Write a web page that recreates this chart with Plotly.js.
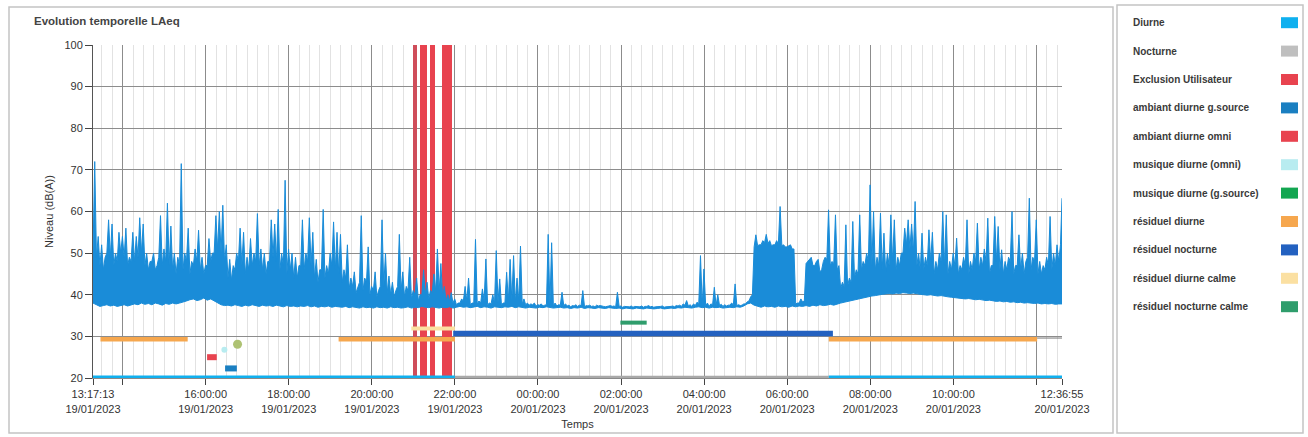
<!DOCTYPE html>
<html><head><meta charset="utf-8">
<script src="https://cdn.plot.ly/plotly-3.0.1.min.js"></script>
<style>html,body{margin:0;padding:0;background:#fff;}#chart{width:1308px;height:437px;}</style>
</head><body><div id="chart"></div>
<script>
// ---------- DATA ----------
const laeqStart = '2023-01-19T13:17:13';
const laeqStepMinutes = 5;
const laeqEnd = '2023-01-20T12:36:55';
const laeqEndValue = 63.2;
// lower envelope of LAeq per 5-minute interval
const laeqLow = [
38,37.5,37.2,37.4,37.6,37.3,37.5,37.2,37.4,37.6,37.3,37.5,
37.8,37.6,38,37.7,37.9,37.6,38,37.8,37.5,37.9,37.7,38,
37.8,38,38.2,38.5,38.8,39,38.6,38.8,39.2,38.7,39,38.5,
38,37.6,37.4,37.5,37.3,37.6,37.4,37.2,37.5,37.3,37.6,37.4,
37.2,37.5,37.3,37.4,37.2,37.5,37.3,37.1,37.4,37.2,37.3,37.1,
37.3,37.2,37.4,37.1,37.3,37,37.2,37.1,37.3,37,37.2,37.1,
37,37.2,36.9,37.1,37,36.8,37.1,36.9,37,36.8,37.1,36.9,
37,36.8,37.1,36.9,37,36.8,36.9,37.1,36.8,37,36.9,37.2,
37,36.9,37.1,37,36.8,37,36.9,37.1,36.8,37,37.2,37,
37.1,36.9,37,37.2,36.9,37.1,37,36.8,37.1,37,36.9,37.1,
37,37.2,36.9,37.1,37,36.8,37,36.9,36.8,37,36.9,37.1,
37,36.8,36.9,37,36.8,36.9,36.7,36.9,36.8,37,36.7,36.9,
36.8,36.7,36.9,36.8,36.7,36.9,36.8,36.7,36.8,36.6,36.8,36.7,
36.6,36.8,36.7,36.6,36.8,36.7,36.6,36.7,36.8,36.6,36.7,36.8,
36.7,36.9,36.8,37,36.9,36.8,37,37.1,36.9,37,36.8,37,
36.9,37,36.8,36.9,37,36.9,37.1,37,37.3,37.8,38,37.5,
37.2,37,37.3,37.1,37.2,37,37.3,37.1,37.2,37,37.3,37.1,
37.3,37.2,37.4,37.2,37.5,37.3,37.6,37.4,37.5,37.7,37.5,37.8,
38,38.2,38.4,38.6,38.8,39,39.2,39.4,39.5,39.7,39.8,40,
40.1,40.2,40.3,40.2,40.4,40.3,40.5,40.4,40.3,40.4,40.2,40.1,
40,39.9,40,39.8,39.7,39.8,39.6,39.5,39.4,39.3,39.2,39.1,
39,39.1,38.9,38.8,38.9,38.7,38.6,38.7,38.5,38.4,38.5,38.3,
38.4,38.2,38.3,38.1,38.2,38,38.1,38,37.9,38,37.8,37.9,
37.8,37.9,37.7,37.8
];
// top of the dense part of the signal per 5-minute interval
const laeqBody = [
50,49,47,46,50,49,47,48,50,49,47,48,
48,49,50,47,46,48,46,49,47,48,47,46,
45,47,46,48,45,47,48,46,45,47,48,50,
51,50,48,44,43.5,46,48,47,45,46,47,48,
47,46,45,48,49,48,46,47,45,46,44,44,
47,46,48,47,44,43,46,44,45,47,46,45,
43,44,41.5,42,40.5,43,41,43,40,41,39.5,42,
42,40.5,40,39.5,42,41,39.5,41,39,40,38.5,40,
40,39,40.5,41,41,39.5,38.5,38.5,38,37.6,38,38.5,
38.5,37.6,38,37.8,38,38.5,37.6,37.8,38,38.2,37.6,38,
38.5,38.6,38.2,38.5,37.8,37.6,37.5,37.6,37.3,37.5,37.3,37.6,
37.6,37.4,37.3,37.5,37.4,37.3,37.1,37.3,37.2,37.4,37.1,37.3,
37.2,37.1,37.3,37.2,37.1,37.3,37.2,37.1,37.2,37,37.2,37.1,
37,37.2,37.1,37,37.2,37.1,37,37.1,37.2,37,37.1,37.2,
37.1,37.3,37.2,37.5,37.3,37.2,37.4,37.8,37.5,37.4,37.2,37.6,
37.4,37.4,37.2,37.3,37.5,37.6,37.4,37.4,37.8,38.3,39.5,51.5,
51.8,52,52.5,52.3,51.8,52,52.2,51.8,51.5,51.8,51,37.8,
38,38.3,47.5,48.5,47,48,45.5,48,48.5,47,47.5,46,
41.5,42,42,43,44,45,46,47,48,47,46,47,
46,45.5,47,48,46,47,50,52,51,50,47,46,
46,47,48,45,46,48,47,45,46,47,45,46,
47,45,46,48,46,47,48,45,47,48,46,45,
46,48,45,47,46,45,49,46,48,45,45,46,
47,46,47,48
];
// peak of the signal per 5-minute interval
const laeqHigh = [
72,54,52,49,58,57,50,55,54,56,49,55,
54,58.5,57,50,48,50,47,59,51,62,56.5,50,
49,71.5,50,56,48,51,55.5,49,47,53.5,50,59,
60,61.5,52,48.5,47,50,56,55,49,53.5,50,59.5,
51,50,48,58,57,60.5,50,67.5,51,50,49,47,
58,50,58.5,55,48.5,46,60.5,47,50,57.5,55,54.5,
46,52,44,45.5,42,59,44,51.5,42,45.5,41,58,
50,44.5,43,41,54.5,45.5,42,49,41,44,40,46,
43,41,45,51,47.5,42,40,40.5,39,38,39,42,
44,38,53.3,38.5,41.4,48.6,38,40,50.6,43.8,38,45.4,
48.5,49.4,44,51.7,39,38,37.8,38,37.6,37.8,37.5,54.5,
52.5,38,37.6,40.6,37.8,37.5,37.4,37.6,37.5,41,37.4,37.5,
37.3,37.5,37.4,37.2,37.3,37.4,37.3,40.6,37.3,37.2,37.1,37.3,
37.2,37.1,37.3,37.2,37.4,37.2,37.1,37.2,37.3,37.1,37.2,37.3,
37.4,37.5,37.8,38.6,37.6,37.8,38.2,49.4,46.2,38,37.8,41.8,
40,37.7,37.6,37.5,38,42.6,37.6,37.5,37.8,38.5,40,54.4,
52,53,54.5,53,52,53,61.2,52,51.5,52,51,38,
39,38.5,48,49,47,48.5,46,49,60.4,48,59.2,47,
43,56.8,44,57.6,46,59.2,48,50,66.4,60,49,59.6,
54.8,50,59.2,58,49,50,56,58,57,62.4,50,54.8,
49,55.6,55,48,50,60,59.2,48,50,53.6,47,49,
58,48,50,57.2,49,51,58.4,47,58.8,56.4,50.8,48,
49,60,47,54.4,50,48,63.2,49,58,48,47,49,
58.8,50,52,52
];

const tickTimes = ['2023-01-19T13:17:13','2023-01-19T14:00:00','2023-01-19T16:00:00','2023-01-19T18:00:00',
  '2023-01-19T20:00:00','2023-01-19T22:00:00','2023-01-20T00:00:00','2023-01-20T02:00:00','2023-01-20T04:00:00',
  '2023-01-20T06:00:00','2023-01-20T08:00:00','2023-01-20T10:00:00','2023-01-20T12:00:00'];
const tickLabels = ['13:17:13<br>19/01/2023','','16:00:00<br>19/01/2023','18:00:00<br>19/01/2023',
  '20:00:00<br>19/01/2023','22:00:00<br>19/01/2023','00:00:00<br>20/01/2023','02:00:00<br>20/01/2023',
  '04:00:00<br>20/01/2023','06:00:00<br>20/01/2023','08:00:00<br>20/01/2023','10:00:00<br>20/01/2023',''];
const endTickLabel = '12:36:55<br>20/01/2023';
const yTicks = [20,30,40,50,60,70,80,90,100];

const legendNames = ['Diurne','Nocturne','Exclusion Utilisateur','ambiant diurne g.source','ambiant diurne omni',
  'musique diurne (omni)','musique diurne (g.source)','résiduel diurne','résiduel nocturne','résiduel diurne calme',
  'résiduel nocturne calme'];
const legendColors = ['#0fb0ef','#bfbfbf','#e8434f','#1a7fc1','#e8434f','#b8ecf0','#13a651','#f6a74e','#2361c0',
  '#fbe0a2','#2f9d6c'];

// periods at the base line
const diurneStarts = ['2023-01-19T13:17:13','2023-01-20T07:00:00'];
const diurneEnds = ['2023-01-19T22:00:00','2023-01-20T12:36:55'];
const diurneLevel = 20.1;
const nocturneStarts = ['2023-01-19T22:00:00'];
const nocturneEnds = ['2023-01-20T07:00:00'];
const nocturneLevel = 20.1;

// user exclusions
const exclusionStarts = ['2023-01-19T20:58:50','2023-01-19T21:09:20','2023-01-19T21:23:30','2023-01-19T21:41:20'];
const exclusionEnds = ['2023-01-19T21:04:30','2023-01-19T21:19:50','2023-01-19T21:31:50','2023-01-19T21:56:00'];
const exclusionColors = ['#cf4d5a','#e8434f','#e8434f','#e8434f'];
const exclusionBottom = 20, exclusionTop = 100;

// indicator segments
const ambiantGsStarts = ['2023-01-19T16:28:00'], ambiantGsEnds = ['2023-01-19T16:45:00'], ambiantGsLevels = [22.3];
const ambiantOmniStarts = ['2023-01-19T16:02:00'], ambiantOmniEnds = ['2023-01-19T16:16:00'], ambiantOmniLevels = [25.0];
const musiqueOmniTimes = ['2023-01-19T16:27:00'], musiqueOmniLevels = [26.8];
const musiqueGsTimes = ['2023-01-19T16:46:00'], musiqueGsLevels = [28.1];
const residDiurneStarts = ['2023-01-19T13:28:00','2023-01-19T19:12:00','2023-01-20T07:00:00'];
const residDiurneEnds = ['2023-01-19T15:34:00','2023-01-19T22:00:00','2023-01-20T12:01:00'];
const residDiurneLevels = [29.3,29.3,29.3];
const residNocturneStarts = ['2023-01-19T21:57:30'], residNocturneEnds = ['2023-01-20T07:06:00'], residNocturneLevels = [30.7];
const residDiurneCalmeStarts = ['2023-01-19T20:57:00'], residDiurneCalmeEnds = ['2023-01-19T22:00:00'], residDiurneCalmeLevels = [31.9];
const residNocturneCalmeStarts = ['2023-01-20T01:59:00'], residNocturneCalmeEnds = ['2023-01-20T02:37:00'], residNocturneCalmeLevels = [33.3];
const tailStarts = ['2023-01-20T12:01:00'], tailEnds = ['2023-01-20T12:36:55'], tailLevels = [29.6];

// ---------- BUILD ----------
const ms = s => Date.parse(s + 'Z');
const t0 = ms(laeqStart), t1 = ms(laeqEnd), step = laeqStepMinutes * 60000;
const BLUE = '#1a8cd8';
const tx = laeqLow.map((v, i) => t0 + i * step);
const lowX = tx.concat([t1]), lowY = laeqLow.concat([laeqLow[laeqLow.length - 1]]);
// upper outline: dense body with a peak in the middle of every interval
const upX = [], upY = [];
laeqBody.forEach((b, i) => {
  upX.push(tx[i], tx[i] + step / 2); upY.push(b, laeqHigh[i]);
});
upX.push(t1); upY.push(laeqEndValue);

function segs(starts, ends, levels) {
  const x = [], y = [];
  starts.forEach((s, k) => {
    const lv = Array.isArray(levels) ? levels[k] : levels;
    x.push(ms(s), ms(ends[k]), null); y.push(lv, lv, null);
  });
  return {x, y};
}
function segTrace(d, color, width) {
  return {type:'scatter', mode:'lines', x:d.x, y:d.y, line:{color:color, width:width}, hoverinfo:'skip',
    showlegend:false, cliponaxis:false};
}

const traces = [];
traces.push({
  type:'bar',
  x: exclusionStarts.map((s,k) => (ms(s) + ms(exclusionEnds[k])) / 2),
  width: exclusionStarts.map((s,k) => ms(exclusionEnds[k]) - ms(s)),
  y: exclusionStarts.map(() => exclusionTop - exclusionBottom),
  base: exclusionBottom,
  marker:{color: exclusionColors, line:{width:0}},
  showlegend:false, hoverinfo:'skip'
});
traces.push(segTrace(segs(nocturneStarts, nocturneEnds, nocturneLevel), '#a9a9a9', 3.5));
traces.push(segTrace(segs(diurneStarts, diurneEnds, diurneLevel), legendColors[0], 4));
traces.push(segTrace(segs(residDiurneStarts, residDiurneEnds, residDiurneLevels), legendColors[7], 4.5));
traces.push(segTrace(segs(residDiurneCalmeStarts, residDiurneCalmeEnds, residDiurneCalmeLevels), legendColors[9], 4));
traces.push(segTrace(segs(residNocturneStarts, residNocturneEnds, residNocturneLevels), legendColors[8], 5.5));
traces.push(segTrace(segs(residNocturneCalmeStarts, residNocturneCalmeEnds, residNocturneCalmeLevels), legendColors[10], 4));
traces.push(segTrace(segs(ambiantOmniStarts, ambiantOmniEnds, ambiantOmniLevels), legendColors[4], 6));
traces.push(segTrace(segs(ambiantGsStarts, ambiantGsEnds, ambiantGsLevels), legendColors[3], 6));
traces.push(segTrace(segs(tailStarts, tailEnds, tailLevels), '#777777', 1));
traces.push({type:'scatter', mode:'markers', x:musiqueOmniTimes.map(ms), y:musiqueOmniLevels,
  marker:{color:legendColors[5], size:6}, hoverinfo:'skip', showlegend:false});
traces.push({type:'scatter', mode:'markers', x:musiqueGsTimes.map(ms), y:musiqueGsLevels,
  marker:{color:'#aec273', size:9, symbol:'circle'}, hoverinfo:'skip', showlegend:false});
// signal
traces.push({type:'scatter', mode:'lines', x:lowX, y:lowY, line:{color:BLUE, width:1}, hoverinfo:'skip', showlegend:false});
traces.push({type:'scatter', mode:'lines', x:upX, y:upY, fill:'tonexty', fillcolor:BLUE,
  line:{color:BLUE, width:1}, hoverinfo:'skip', showlegend:false});
// carrier for the end tick axis
traces.push({type:'scatter', mode:'markers', x:[t1], y:[laeqEndValue], xaxis:'x2', marker:{opacity:0}, hoverinfo:'skip', showlegend:false});

// ---------- LAYOUT ----------
const L = 93, R = 1062, T = 45, B = 378;
const px = v => (v - L) / (R - L);
const py = v => (B - v) / (B - T);
const shapes = [
  {type:'rect', xref:'paper', yref:'paper', x0:px(9), x1:px(1113), y0:py(433), y1:py(7), line:{color:'#c4c4c4', width:1.5}, layer:'below'},
  {type:'rect', xref:'paper', yref:'paper', x0:px(1117), x1:px(1303), y0:py(433), y1:py(5), line:{color:'#c4c4c4', width:1.5}, layer:'below'}
];
const annotations = [];
legendNames.forEach((n, k) => {
  const cy = 22.7 + k * 28.4;
  annotations.push({xref:'paper', yref:'paper', x:px(1131), y:py(cy), xanchor:'left', yanchor:'middle', showarrow:false,
    text:n, font:{family:'Liberation Sans, Arial, sans-serif', size:10, color:'#3a3a3a', weight:'bold'}});
  shapes.push({type:'rect', xref:'paper', yref:'paper', x0:px(1281), x1:px(1298), y0:py(cy + 5.5), y1:py(cy - 5.5),
    fillcolor:legendColors[k], line:{width:0}});
});

const tickFont = {size:11, color:'#333'};
const layout = {
  width:1308, height:437,
  margin:{l:L, r:1308 - R, t:T, b:437 - B, pad:0},
  paper_bgcolor:'#fff', plot_bgcolor:'#fff',
  font:{family:'Liberation Sans, Arial, sans-serif', size:11, color:'#333'},
  title:{text:'<b>Evolution temporelle LAeq</b>', xref:'container', yref:'container', x:34/1308, xanchor:'left',
    y:1 - 21/437, yanchor:'middle', font:{size:11.5, color:'#444'}},
  showlegend:false,
  bargap:0,
  xaxis:{type:'date', range:[t0, t1], tickmode:'array', tickvals:tickTimes.map(ms), ticktext:tickLabels,
    showgrid:true, gridcolor:'#8c8c8c', gridwidth:1, showline:true, linecolor:'#8a8a8a', linewidth:1,
    ticks:'outside', ticklen:6, tickcolor:'#444', tickfont:tickFont, zeroline:false, layer:'below traces',
    minor:{tick0:ms('2023-01-19T14:00:00'), dtick:15*60000, showgrid:true, gridcolor:'#e2e2e2', gridwidth:1, ticks:''},
    title:{text:'Temps', font:{size:11, color:'#333'}, standoff:6}},
  xaxis2:{type:'date', overlaying:'x', anchor:'y', side:'bottom', range:[t0, t1], tickmode:'array',
    tickvals:[t1], ticktext:[endTickLabel], showgrid:false, showline:false, ticks:'outside', ticklen:6,
    tickcolor:'#444', tickfont:tickFont, zeroline:false},
  yaxis:{range:[20,100], tickmode:'array', tickvals:yTicks, showgrid:true, gridcolor:'#8c8c8c', gridwidth:1,
    showline:true, linecolor:'#555', linewidth:1, ticks:'outside', ticklen:7, tickcolor:'#444',
    tickfont:tickFont, zeroline:false,
    title:{text:'Niveau (dB(A))', font:{size:11, color:'#333'}, standoff:8}},
  shapes:shapes, annotations:annotations
};
Plotly.newPlot('chart', traces, layout, {displayModeBar:false, staticPlot:true});
</script></body></html>
